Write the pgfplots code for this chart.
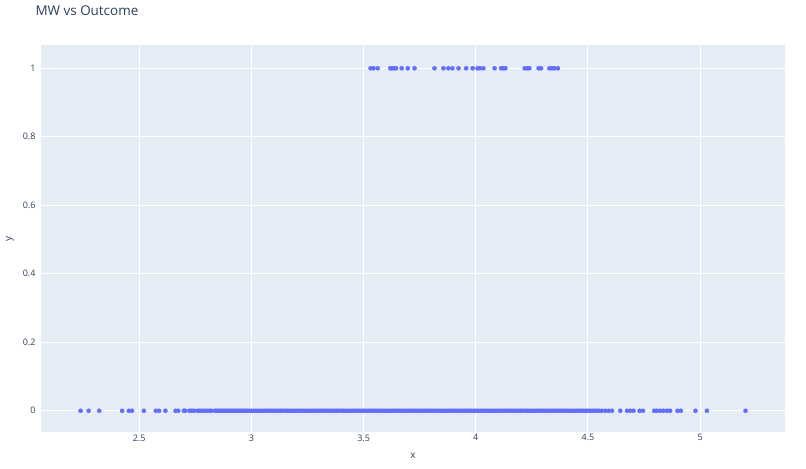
\documentclass[border=0pt]{standalone}
\usepackage{fontspec}
\setmainfont{Open Sans}
\usepackage{pgfplots}
\pgfplotsset{compat=1.18}
\definecolor{plotbg}{HTML}{E5ECF6}
\definecolor{dotc}{HTML}{636EFA}
\definecolor{fontc}{HTML}{2A3F5F}

\begin{document}
\begin{tikzpicture}
\begin{axis}[
  scale only axis, width=744bp, height=387bp,
  xmin=2.0625, xmax=5.378, ymin=-0.062, ymax=1.068,
  axis background/.style={fill=plotbg},
  axis line style={draw=none},
  major tick length=0pt,
  xmajorgrids, ymajorgrids,
  grid style={white, line width=1bp},
  xtick={2.5,3,3.5,4,4.5,5},
  ytick={0,0.2,0.4,0.6,0.8,1},
  /pgf/number format/assume math mode=true,
  tick label style={font=\fontsize{9}{11}\selectfont, text=fontc},
  xticklabel style={yshift=1bp},
  yticklabel style={xshift=-2bp},
  clip=false,
]
% outcome = 1
\addplot[only marks, color=dotc, mark=*, mark size=2.1bp, mark options={solid, fill=dotc, line width=0.3bp}]
coordinates {
(3.531,1)(3.544,1)(3.563,1)(3.619,1)(3.627,1)(3.636,1)(3.645,1)(3.670,1)
(3.697,1)(3.727,1)(3.816,1)(3.856,1)(3.878,1)(3.896,1)(3.923,1)(3.957,1)
(3.986,1)(4.008,1)(4.019,1)(4.034,1)(4.084,1)(4.113,1)(4.123,1)(4.132,1)
(4.218,1)(4.230,1)(4.239,1)(4.280,1)(4.291,1)(4.328,1)(4.340,1)(4.350,1)
(4.366,1)
};
% outcome = 0
\addplot[only marks, color=dotc, mark=*, mark size=2.1bp, mark options={solid, fill=dotc, line width=0.3bp}]
coordinates {
(2.239,0)(2.275,0)(2.322,0)(2.424,0)(2.454,0)(2.468,0)(2.521,0)(2.574,0)
(2.589,0)(2.617,0)(2.662,0)(2.674,0)(2.699,0)(2.705,0)(2.724,0)(2.734,0)
(2.744,0)(2.760,0)(2.770,0)(2.780,0)(2.790,0)(2.802,0)(2.812,0)(2.822,0)
(2.838,0)(2.846,0)(2.854,0)(2.862,0)(2.870,0)(2.878,0)(2.886,0)(2.894,0)
(2.902,0)(2.910,0)(2.918,0)(2.926,0)(2.934,0)(2.942,0)(2.950,0)(2.958,0)
(2.966,0)(2.974,0)(2.982,0)(2.990,0)
(3.00,0)(3.01,0)(3.02,0)(3.03,0)(3.04,0)(3.05,0)(3.06,0)(3.07,0)(3.08,0)(3.09,0)
(3.10,0)(3.11,0)(3.12,0)(3.13,0)(3.14,0)(3.15,0)(3.16,0)(3.17,0)(3.18,0)(3.19,0)
(3.20,0)(3.21,0)(3.22,0)(3.23,0)(3.24,0)(3.25,0)(3.26,0)(3.27,0)(3.28,0)(3.29,0)
(3.30,0)(3.31,0)(3.32,0)(3.33,0)(3.34,0)(3.35,0)(3.36,0)(3.37,0)(3.38,0)(3.39,0)
(3.40,0)(3.41,0)(3.42,0)(3.43,0)(3.44,0)(3.45,0)(3.46,0)(3.47,0)(3.48,0)(3.49,0)
(3.50,0)(3.51,0)(3.52,0)(3.53,0)(3.54,0)(3.55,0)(3.56,0)(3.57,0)(3.58,0)(3.59,0)
(3.60,0)(3.61,0)(3.62,0)(3.63,0)(3.64,0)(3.65,0)(3.66,0)(3.67,0)(3.68,0)(3.69,0)
(3.70,0)(3.71,0)(3.72,0)(3.73,0)(3.74,0)(3.75,0)(3.76,0)(3.77,0)(3.78,0)(3.79,0)
(3.80,0)(3.81,0)(3.82,0)(3.83,0)(3.84,0)(3.85,0)(3.86,0)(3.87,0)(3.88,0)(3.89,0)
(3.90,0)(3.91,0)(3.92,0)(3.93,0)(3.94,0)(3.95,0)(3.96,0)(3.97,0)(3.98,0)(3.99,0)
(4.00,0)(4.01,0)(4.02,0)(4.03,0)(4.04,0)(4.05,0)(4.06,0)(4.07,0)(4.08,0)(4.09,0)
(4.10,0)(4.11,0)(4.12,0)(4.13,0)(4.14,0)(4.15,0)(4.16,0)(4.17,0)(4.18,0)(4.19,0)
(4.20,0)(4.21,0)(4.22,0)(4.23,0)(4.24,0)(4.25,0)(4.26,0)(4.27,0)(4.28,0)(4.29,0)
(4.30,0)(4.31,0)(4.32,0)(4.33,0)(4.34,0)(4.35,0)(4.36,0)(4.37,0)(4.38,0)(4.39,0)
(4.40,0)(4.41,0)(4.42,0)(4.43,0)(4.44,0)(4.45,0)(4.46,0)(4.47,0)(4.48,0)(4.49,0)
(4.50,0)(4.51,0)(4.52,0)(4.53,0)(4.54,0)(4.55,0)
(4.562,0)(4.577,0)(4.592,0)(4.607,0)(4.644,0)(4.674,0)(4.688,0)(4.703,0)
(4.730,0)(4.745,0)(4.795,0)(4.807,0)(4.822,0)(4.836,0)(4.852,0)(4.866,0)
(4.899,0)(4.914,0)(4.979,0)(5.030,0)(5.202,0)
};
\end{axis}
\node[anchor=base west, font=\fontsize{13.5}{15}\selectfont, text=fontc]
  at ([xshift=-9bp, yshift=29bp]current axis.north west) {MW vs Outcome};
\node[font=\fontsize{10}{12}\selectfont, text=fontc]
  at ([yshift=-24bp]current axis.south) {x};
\node[font=\fontsize{10}{12}\selectfont, text=fontc, rotate=90]
  at ([xshift=-31bp]current axis.west) {y};
\path[use as bounding box] ([xshift=-41bp, yshift=-37bp]current axis.south west)
  rectangle ([xshift=21bp, yshift=45bp]current axis.north east);
\end{tikzpicture}
\end{document}
